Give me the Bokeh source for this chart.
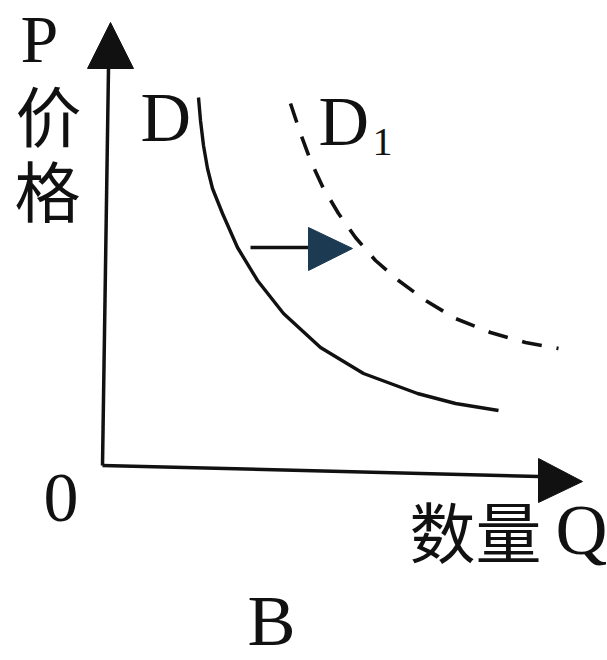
from bokeh.plotting import figure
from bokeh.models import Range1d
from bokeh.core.properties import value
from bokeh.embed import file_html
from bokeh.resources import INLINE

# ---- data (origin at the axes corner) ----
d_q = [96, 98, 101, 105, 110, 120, 135, 155, 181, 218, 261, 315, 353, 396]
d_p = [368, 345, 320, 297, 277, 252, 218, 185, 152, 118, 92, 72, 62, 55]

d1_q = [188, 198, 208, 220, 236, 253, 273, 296, 323, 353, 388, 423, 456]
d1_p = [362, 332, 305, 279, 252, 228, 205, 185, 165, 147, 133, 123, 117]

yaxis_x = [0, 6]
yaxis_y = [0, 397]
yhead_x = [-15, 31, 8]
yhead_y = [397, 397, 443]

xaxis_x = [0, 436]
xaxis_y = [0, -11]
xhead_x = [436, 436, 480]
xhead_y = [7, -37, -16]

shift_x = [148, 206]
shift_y = [218, 218]
shead_x = [206, 206, 250]
shead_y = [238, 195, 217]

label_p = "P"
label_price = ["价", "格"]
label_qty = "数量"
label_q = "Q"
label_zero = "0"
label_d = "D"
label_d1 = "D"
label_d1_sub = "1"
label_panel = "B"

INK = "#111111"
SERIF = value("Liberation Serif")
CJK = value("Noto Sans CJK SC")
DY = 8  # baseline compensation

p = figure(width=606, height=659, x_range=Range1d(-102, 504), y_range=Range1d(-194, 465),
           output_backend="svg", toolbar_location=None, min_border=0,
           x_axis_type=None, y_axis_type=None)
p.grid.visible = False
p.outline_line_color = None
p.background_fill_color = "white"

# axes with arrowheads
p.line(yaxis_x, yaxis_y, line_color=INK, line_width=3.5)
p.patch(yhead_x, yhead_y, fill_color=INK, line_color=INK)
p.line(xaxis_x, xaxis_y, line_color=INK, line_width=3.5)
p.patch(xhead_x, xhead_y, fill_color=INK, line_color=INK)

# demand curves
p.line(d_q, d_p, line_color=INK, line_width=3.4)
p.line(d1_q, d1_p, line_color=INK, line_width=3.6, line_dash="20 15")

# shift arrow
p.line(shift_x, shift_y, line_color=INK, line_width=3.4)
p.patch(shead_x, shead_y, fill_color="#1c3a52", line_color="#1c3a52")

def label(x, y, t, font, size, align="left"):
    p.text(x=x, y=[v + DY for v in y], text=t, text_font=font, text_font_size=size,
           text_color=INK, text_baseline="middle", text_align=align)

label([-82], [419], [label_p], SERIF, "68px")
label([-54, -55], [345, 270], label_price, CJK, "66px", "center")
label([38], [340], [label_d], SERIF, "70px")
label([216], [336], [label_d1], SERIF, "70px")
label([270], [316], [label_d1_sub], SERIF, "40px")
label([-59], [-40], [label_zero], SERIF, "70px")
label([373], [-71], [label_qty], CJK, "66px", "center")
label([453], [-72], [label_q], SERIF, "72px")
label([145], [-163], [label_panel], SERIF, "72px")

open("out.html", "w").write(file_html(p, INLINE))
